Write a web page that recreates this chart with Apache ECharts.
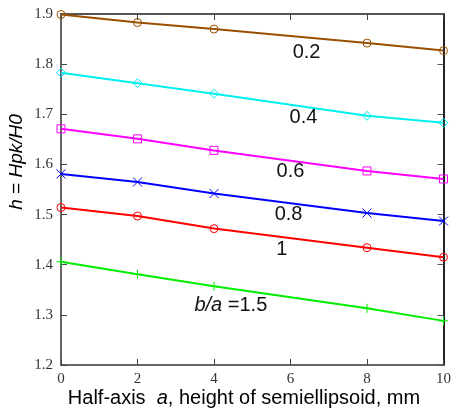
<!DOCTYPE html>
<html>
<head>
<meta charset="utf-8">
<script src="https://cdn.jsdelivr.net/npm/echarts@6/dist/echarts.min.js"></script>
<style>
  html, body { margin: 0; padding: 0; background: #fff; }
  #chart { width: 454px; height: 411px; }
</style>
</head>
<body>
<div id="chart"></div>
<script>
// Half-axis a (mm) at which h was evaluated
const halfAxis = [0, 2, 4, 8, 10];

// h = Hpk/H0 for each aspect ratio b/a
const ratioLabels = ['0.2', '0.4', '0.6', '0.8', '1', '1.5'];
const h_02 = [1.899, 1.883, 1.870, 1.842, 1.827];
const h_04 = [1.783, 1.762, 1.741, 1.697, 1.683];
const h_06 = [1.671, 1.651, 1.628, 1.587, 1.571];
const h_08 = [1.581, 1.565, 1.542, 1.503, 1.487];
const h_10 = [1.514, 1.497, 1.472, 1.434, 1.415];
const h_15 = [1.406, 1.381, 1.357, 1.313, 1.288];

const xTicks = [0, 2, 4, 6, 8, 10];
const yTicks = [1.2, 1.3, 1.4, 1.5, 1.6, 1.7, 1.8, 1.9];

const curves = [
  { name: ratioLabels[0], data: h_02, color: '#995000', symbol: 'circle', size: 8, at: [6.42, 1.824] },
  { name: ratioLabels[1], data: h_04, color: '#00f0f0', symbol: 'diamond', size: 9, at: [6.34, 1.693] },
  { name: ratioLabels[2], data: h_06, color: '#ff00ff', symbol: 'rect', size: 8, at: [6.0, 1.585] },
  { name: ratioLabels[3], data: h_08, color: '#0000ff', symbol: 'path://M0,0L10,10M10,0L0,10', size: 9, at: [5.95, 1.501] },
  { name: ratioLabels[4], data: h_10, color: '#ff0000', symbol: 'circle', size: 8, at: [5.77, 1.431] },
  { name: ratioLabels[5], data: h_15, color: '#00ee00', symbol: 'path://M5,0L5,10M0,5L10,5', size: 9, at: [4.44, 1.318] }
];

const sans = '"Liberation Sans", Arial, sans-serif';
const tickFont = { fontFamily: '"Liberation Serif", "DejaVu Serif", serif', fontSize: 15, color: '#333' };

const chart = echarts.init(document.getElementById('chart'), null, { renderer: 'canvas' });

const series = curves.map(function (c, i) {
  const label = i === 5 ? '{i|b/a} =' + c.name : c.name;
  return {
    type: 'line',
    name: c.name,
    xAxisIndex: 0,
    yAxisIndex: 0,
    data: halfAxis.map(function (x, k) { return [x, c.data[k]]; }),
    symbol: c.symbol,
    symbolSize: c.size,
    showAllSymbol: true,
    lineStyle: { color: c.color, width: 2 },
    itemStyle: { color: 'rgba(0,0,0,0)', borderColor: c.color, borderWidth: 1 },
    emphasis: { disabled: true },
    animation: false,
    z: 2,
    markPoint: {
      silent: true,
      symbol: 'circle',
      symbolSize: 1,
      animation: false,
      itemStyle: { color: 'rgba(0,0,0,0)', borderWidth: 0 },
      label: {
        show: true,
        position: 'inside',
        formatter: label,
        fontFamily: sans,
        fontSize: 20,
        color: '#111',
        rich: { i: { fontStyle: 'italic', fontSize: 20, fontFamily: sans, color: '#111' } }
      },
      data: [{ coord: c.at }]
    }
  };
});

chart.setOption({
  animation: false,
  backgroundColor: '#fff',
  grid: { left: 61, right: 10, top: 14, bottom: 46, containLabel: false },
  xAxis: [
    {
      type: 'value', position: 'bottom', min: 0, max: 10, interval: 2,
      axisLine: { show: true, onZero: false, lineStyle: { color: '#666', width: 2 } },
      axisTick: { show: true, inside: true, length: 6, lineStyle: { color: '#444', width: 1 } },
      axisLabel: Object.assign({ margin: 7 }, tickFont),
      splitLine: { show: false }
    },
    {
      type: 'value', position: 'top', min: 0, max: 10, interval: 2,
      axisLine: { show: true, onZero: false, lineStyle: { color: '#555', width: 2 } },
      axisTick: { show: true, inside: true, length: 6, lineStyle: { color: '#444', width: 1 } },
      axisLabel: { show: false },
      splitLine: { show: false }
    }
  ],
  yAxis: [
    {
      type: 'value', position: 'left', min: 1.2, max: 1.9, interval: 0.1,
      axisLine: { show: true, onZero: false, lineStyle: { color: '#666', width: 2 } },
      axisTick: { show: true, inside: true, length: 6, lineStyle: { color: '#444', width: 1 } },
      axisLabel: Object.assign({ margin: 8, formatter: function (v) { return v.toFixed(1); } }, tickFont),
      splitLine: { show: false }
    },
    {
      type: 'value', position: 'right', min: 1.2, max: 1.9, interval: 0.1,
      axisLine: { show: true, onZero: false, lineStyle: { color: '#222', width: 2 } },
      axisTick: { show: true, inside: true, length: 6, lineStyle: { color: '#555', width: 1 } },
      axisLabel: { show: false },
      splitLine: { show: false }
    }
  ],
  series: series,
  graphic: [
    {
      type: 'text',
      x: 244, y: 398,
      silent: true,
      style: {
        text: 'Half-axis  {i|a}, height of semiellipsoid, mm',
        align: 'center', verticalAlign: 'middle',
        font: '20px ' + sans,
        fill: '#000',
        rich: { i: { fontStyle: 'italic', fontSize: 20, fontFamily: sans, fill: '#000' } }
      }
    },
    {
      type: 'text',
      x: 17, y: 162,
      rotation: Math.PI / 2,
      silent: true,
      style: {
        text: '{i|h} = {i|Hpk/H0}',
        align: 'center', verticalAlign: 'middle',
        font: '19px ' + sans,
        fill: '#000',
        rich: { i: { fontStyle: 'italic', fontSize: 19, fontFamily: sans, fill: '#000' } }
      }
    }
  ]
});
</script>
</body>
</html>
